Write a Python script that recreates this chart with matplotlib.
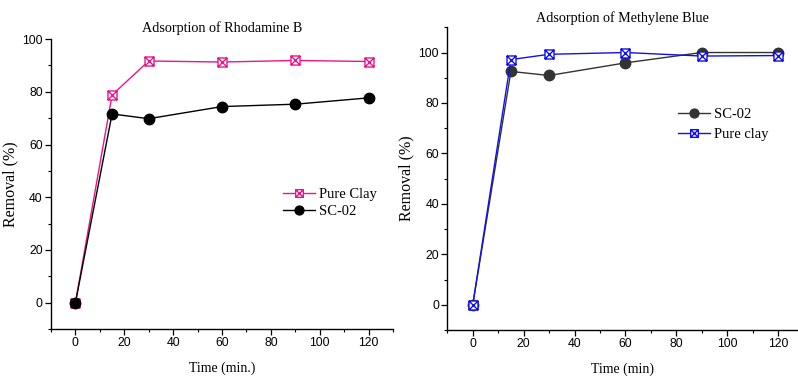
import numpy as np
import matplotlib.pyplot as plt
from matplotlib.path import Path
from matplotlib.ticker import MultipleLocator

# --- data ---
time = [0, 15, 30, 60, 90, 120]

rhb_pure_clay = [0, 78.8, 91.7, 91.3, 91.9, 91.5]
rhb_sc02 = [0, 71.6, 69.8, 74.4, 75.3, 77.7]

mb_sc02 = [0, 92.5, 90.9, 95.9, 100, 100]
mb_pure_clay = [0, 97.2, 99.3, 100, 98.6, 98.8]

serif = ['Liberation Serif', 'DejaVu Serif']
sans = ['Liberation Sans', 'DejaVu Sans']

# square with an X inside
box_x = Path(
    [(-1, -1), (1, -1), (1, 1), (-1, 1), (-1, -1),
     (-1, -1), (1, 1), (-1, 1), (1, -1)],
    [Path.MOVETO, Path.LINETO, Path.LINETO, Path.LINETO, Path.CLOSEPOLY,
     Path.MOVETO, Path.LINETO, Path.MOVETO, Path.LINETO])

fig = plt.figure(figsize=(7.98, 3.76), dpi=100)
ax1 = fig.add_axes([0.0639, 0.125, 0.4286, 0.771])
ax2 = fig.add_axes([0.5605, 0.1223, 0.4385, 0.8051])


def style(ax, xlim, ylim):
    ax.set_xlim(*xlim)
    ax.set_ylim(*ylim)
    for s in ['top', 'right']:
        ax.spines[s].set_visible(False)
    for s in ['left', 'bottom']:
        ax.spines[s].set_linewidth(1.0)
    ax.set_xticks([0, 20, 40, 60, 80, 100, 120])
    ax.xaxis.set_minor_locator(MultipleLocator(10))
    ax.set_yticks([0, 20, 40, 60, 80, 100])
    ax.yaxis.set_minor_locator(MultipleLocator(10))
    ax.tick_params(which='major', direction='out', length=4, width=0.9, labelsize=8.8, pad=2)
    ax.tick_params(which='minor', direction='out', length=2.5, width=0.8)
    for lab in ax.get_xticklabels() + ax.get_yticklabels():
        lab.set_family(sans)


leg_kw = dict(frameon=False, prop={'family': serif, 'size': 10.5}, handlelength=2.2,
              handletextpad=0.3, borderpad=0, markerscale=0.85)

# left: Rhodamine B
pink = '#e8168a'
ax1.plot(time, rhb_pure_clay, color=pink, lw=1.0, marker=box_x, ms=6.5,
         mfc='white', mec=pink, mew=1.0, label='Pure Clay')
ax1.plot(time, rhb_sc02, color='black', lw=1.0, marker='o', ms=7.5,
         mfc='black', mec='black', label='SC-02')
style(ax1, (-10, 130), (-10, 100))
ax1.set_title('Adsorption of Rhodamine B', family=serif, fontsize=10.2, pad=5)
ax1.set_xlabel('Time (min.)', family=serif, fontsize=10, labelpad=9)
ax1.set_ylabel('Removal (%)', family=serif, fontsize=11.5, labelpad=3)
ax1.legend(loc='center left', bbox_to_anchor=(0.657, 0.435), labelspacing=0.25, **leg_kw)

# right: Methylene Blue
blue = '#1010ee'
ax2.plot(time, mb_sc02, color='#333333', lw=1.0, marker='o', ms=7.5,
         mfc='#333333', mec='#333333', label='SC-02')
ax2.plot(time, mb_pure_clay, color=blue, lw=1.0, marker=box_x, ms=6.5,
         mfc='white', mec=blue, mew=1.0, label='Pure clay')
style(ax2, (-10, 127.5), (-10, 110))
ax2.set_title('Adsorption of Methylene Blue', family=serif, fontsize=10.2, pad=4)
ax2.set_xlabel('Time (min)', family=serif, fontsize=10, labelpad=9)
ax2.set_ylabel('Removal (%)', family=serif, fontsize=11.5, labelpad=3)
ax2.legend(loc='center left', bbox_to_anchor=(0.638, 0.68), labelspacing=0.45, **leg_kw)

fig.savefig('out.png', dpi=100)
